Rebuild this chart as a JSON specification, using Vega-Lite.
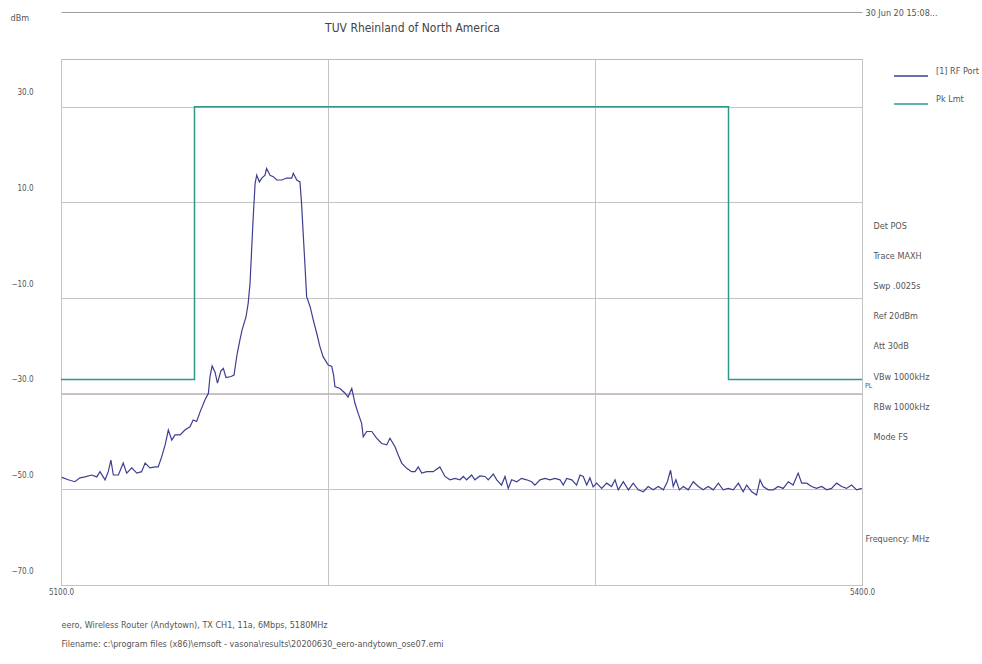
{
"$schema": "https://vega.github.io/schema/vega-lite/v6.json",
"width": 801, "height": 526,
"autosize": {"type": "none"},
"padding": {"left": 61, "top": 59, "right": 120, "bottom": 79},
"background": "white",
"title": {"text": "TUV Rheinland of North America", "anchor": "middle", "frame": "group", "dx": -49, "offset": -39, "baseline": "bottom", "fontSize": 12, "fontWeight": "normal", "color": "#444", "font": "Liberation Sans Narrow, DejaVu Sans Condensed, Liberation Sans, Arial, sans-serif"},
"config": {
  "view": {"stroke": "#b8b8b8", "strokeWidth": 1},
  "font": "Liberation Sans Narrow, DejaVu Sans Condensed, Liberation Sans, Arial, sans-serif",
  "axis": {"labelColor": "#555", "titleColor": "#555", "titleFontWeight": "normal", "gridColor": "#c4c4c4", "gridOpacity": 1, "domain": false, "ticks": false, "labelFontSize": 8, "titleFontSize": 9},
  "legend": {"labelFont": "Liberation Sans Narrow, DejaVu Sans Condensed, Liberation Sans, Arial, sans-serif"}
},
"datasets": {
"trace": [
{"f":5100.3,"v":-47.5},{"f":5102.7,"v":-48.0},{"f":5105.2,"v":-48.4},{"f":5107.1,"v":-47.6},{"f":5109.0,"v":-47.4},{"f":5111.5,"v":-47.0},{"f":5113.4,"v":-47.4},{"f":5114.6,"v":-46.3},{"f":5116.5,"v":-48.0},{"f":5117.7,"v":-46.3},{"f":5118.7,"v":-43.9},{"f":5119.6,"v":-47.0},{"f":5121.5,"v":-47.0},{"f":5123.3,"v":-44.5},{"f":5124.6,"v":-46.6},{"f":5126.5,"v":-45.5},{"f":5128.4,"v":-46.6},{"f":5130.2,"v":-46.3},{"f":5131.5,"v":-44.5},{"f":5133.3,"v":-45.5},{"f":5135.2,"v":-45.3},{"f":5136.4,"v":-45.3},{"f":5137.7,"v":-43.2},{"f":5139.0,"v":-40.7},{"f":5140.2,"v":-37.6},{"f":5141.5,"v":-39.7},{"f":5142.7,"v":-38.6},{"f":5144.6,"v":-38.6},{"f":5146.4,"v":-37.6},{"f":5148.3,"v":-36.9},{"f":5149.5,"v":-35.5},{"f":5150.8,"v":-35.8},{"f":5152.1,"v":-33.8},{"f":5153.9,"v":-31.3},{"f":5155.2,"v":-29.9},{"f":5155.8,"v":-26.4},{"f":5156.6,"v":-24.2},{"f":5157.7,"v":-25.5},{"f":5158.6,"v":-27.8},{"f":5159.9,"v":-25.2},{"f":5160.8,"v":-24.7},{"f":5161.8,"v":-26.6},{"f":5163.7,"v":-26.4},{"f":5164.8,"v":-26.1},{"f":5165.9,"v":-21.9},{"f":5167.0,"v":-18.8},{"f":5167.8,"v":-16.7},{"f":5169.3,"v":-13.9},{"f":5170.1,"v":-11.1},{"f":5170.8,"v":-6.9},{"f":5171.4,"v":0.1},{"f":5172.0,"v":7.0},{"f":5172.7,"v":14.0},{"f":5173.3,"v":15.7},{"f":5174.3,"v":14.3},{"f":5175.2,"v":15.1},{"f":5176.4,"v":15.7},{"f":5177.0,"v":17.1},{"f":5178.3,"v":15.7},{"f":5179.5,"v":15.4},{"f":5180.8,"v":14.7},{"f":5182.7,"v":14.7},{"f":5184.5,"v":15.1},{"f":5186.4,"v":15.1},{"f":5187.0,"v":16.1},{"f":5188.3,"v":14.7},{"f":5189.5,"v":14.3},{"f":5190.1,"v":9.8},{"f":5190.7,"v":3.6},{"f":5191.4,"v":-3.4},{"f":5192.0,"v":-9.7},{"f":5193.3,"v":-11.8},{"f":5194.5,"v":-14.6},{"f":5195.8,"v":-17.4},{"f":5197.0,"v":-20.2},{"f":5198.2,"v":-22.3},{"f":5200.1,"v":-24.0},{"f":5201.4,"v":-24.3},{"f":5202.1,"v":-26.1},{"f":5202.6,"v":-28.5},{"f":5204.5,"v":-28.9},{"f":5206.4,"v":-29.9},{"f":5207.5,"v":-30.7},{"f":5208.9,"v":-28.9},{"f":5210.1,"v":-32.0},{"f":5211.3,"v":-34.1},{"f":5212.6,"v":-36.2},{"f":5213.2,"v":-39.0},{"f":5214.5,"v":-37.9},{"f":5216.4,"v":-37.9},{"f":5218.2,"v":-39.3},{"f":5220.1,"v":-40.4},{"f":5222.0,"v":-40.7},{"f":5223.2,"v":-39.3},{"f":5225.1,"v":-41.1},{"f":5226.3,"v":-42.8},{"f":5227.6,"v":-44.5},{"f":5229.5,"v":-45.6},{"f":5231.3,"v":-46.3},{"f":5232.6,"v":-46.3},{"f":5233.8,"v":-45.3},{"f":5235.1,"v":-46.6},{"f":5237.0,"v":-46.3},{"f":5239.4,"v":-46.3},{"f":5241.9,"v":-45.3},{"f":5243.8,"v":-47.3},{"f":5245.7,"v":-48.0},{"f":5247.6,"v":-47.7},{"f":5249.4,"v":-48.0},{"f":5250.7,"v":-47.3},{"f":5251.9,"v":-48.0},{"f":5253.8,"v":-47.0},{"f":5255.0,"v":-48.0},{"f":5256.9,"v":-47.2},{"f":5258.8,"v":-47.3},{"f":5260.0,"v":-48.0},{"f":5261.9,"v":-46.8},{"f":5263.2,"v":-48.0},{"f":5265.0,"v":-49.1},{"f":5266.3,"v":-47.3},{"f":5267.5,"v":-49.8},{"f":5268.8,"v":-48.0},{"f":5270.7,"v":-48.4},{"f":5272.5,"v":-47.7},{"f":5274.4,"v":-48.0},{"f":5276.3,"v":-48.4},{"f":5277.5,"v":-49.1},{"f":5279.4,"v":-48.0},{"f":5281.3,"v":-47.7},{"f":5283.1,"v":-48.0},{"f":5285.0,"v":-47.7},{"f":5286.9,"v":-48.0},{"f":5288.1,"v":-49.1},{"f":5289.4,"v":-47.7},{"f":5291.3,"v":-48.0},{"f":5293.1,"v":-49.1},{"f":5294.4,"v":-47.0},{"f":5295.6,"v":-47.3},{"f":5296.9,"v":-49.1},{"f":5298.1,"v":-47.6},{"f":5299.3,"v":-49.5},{"f":5300.6,"v":-48.7},{"f":5302.5,"v":-49.8},{"f":5304.4,"v":-48.7},{"f":5306.2,"v":-49.4},{"f":5307.5,"v":-48.0},{"f":5308.7,"v":-50.1},{"f":5310.6,"v":-48.4},{"f":5312.5,"v":-50.1},{"f":5314.3,"v":-48.7},{"f":5316.2,"v":-50.1},{"f":5318.1,"v":-50.5},{"f":5319.9,"v":-49.4},{"f":5321.8,"v":-50.1},{"f":5323.7,"v":-49.4},{"f":5325.6,"v":-50.1},{"f":5327.1,"v":-48.4},{"f":5328.3,"v":-46.0},{"f":5329.3,"v":-49.4},{"f":5330.3,"v":-48.0},{"f":5331.6,"v":-50.1},{"f":5333.1,"v":-49.4},{"f":5334.9,"v":-50.1},{"f":5336.8,"v":-48.4},{"f":5338.7,"v":-49.4},{"f":5340.5,"v":-50.1},{"f":5342.4,"v":-49.4},{"f":5344.3,"v":-50.1},{"f":5346.2,"v":-48.7},{"f":5348.0,"v":-50.1},{"f":5349.9,"v":-49.8},{"f":5351.8,"v":-50.1},{"f":5353.7,"v":-48.7},{"f":5355.5,"v":-50.5},{"f":5356.8,"v":-49.1},{"f":5358.7,"v":-50.5},{"f":5360.5,"v":-51.2},{"f":5361.8,"v":-48.0},{"f":5363.0,"v":-49.4},{"f":5364.9,"v":-50.1},{"f":5366.8,"v":-50.1},{"f":5368.6,"v":-49.4},{"f":5370.5,"v":-49.8},{"f":5372.4,"v":-48.4},{"f":5374.2,"v":-49.1},{"f":5376.1,"v":-46.6},{"f":5377.4,"v":-48.7},{"f":5379.3,"v":-48.7},{"f":5381.1,"v":-49.4},{"f":5383.0,"v":-49.8},{"f":5384.9,"v":-49.4},{"f":5386.8,"v":-50.1},{"f":5388.6,"v":-49.8},{"f":5390.5,"v":-48.7},{"f":5392.4,"v":-49.4},{"f":5394.2,"v":-49.8},{"f":5396.1,"v":-49.1},{"f":5398.0,"v":-50.1},{"f":5399.9,"v":-49.8}
],
"limit": [
{"i":0,"f":5100,"v":-27},{"i":1,"f":5150,"v":-27},{"i":2,"f":5150,"v":30},{"i":3,"f":5350,"v":30},{"i":4,"f":5350,"v":-27},{"i":5,"f":5400,"v":-27}
]
},
"layer": [
  {
    "data": {"values": [{"d": -30}]},
    "mark": {"type": "rule", "color": "#dca6a6", "strokeWidth": 1},
    "encoding": {"y": {"field": "d", "type": "quantitative", "axis": null}}
  },
  {
    "data": {"name": "trace"},
    "mark": {"type": "line", "strokeWidth": 1.2, "interpolate": "linear"},
    "encoding": {
      "x": {"field": "f", "type": "quantitative", "scale": {"domain": [5100, 5400], "nice": false, "zero": false},
        "axis": {"orient": "bottom", "values": [5100, 5200, 5300, 5400], "labelExpr": "datum.value == 5100 || datum.value == 5400 ? format(datum.value, '.1f') : ''", "grid": true, "labelPadding": 3, "labelFlush": false, "labelOverlap": false,
          "title": "Frequency: MHz", "titleX": 804, "titleY": -47, "titleAnchor": null, "titleAlign": "left", "titleBaseline": "middle"}},
      "y": {"field": "v", "type": "quantitative", "scale": {"domain": [-70, 40], "nice": false, "zero": false},
        "axis": {"orient": "left", "values": [-70, -50, -30, -10, 10, 30], "format": ".1f", "grid": true, "labelOffset": -14, "labelPadding": 28,
          "title": "dBm", "titleAngle": 0, "titleX": -51, "titleY": -42, "titleAlign": "left", "titleBaseline": "middle", "titleAnchor": null}},
      "color": {"datum": "[1] RF Port", "type": "nominal",
        "scale": {"domain": ["[1] RF Port", "Pk Lmt"], "range": ["#3e3e92", "#2b9a8c"]},
        "legend": {"orient": "none", "legendX": 832, "legendY": -1, "title": null, "symbolType": "stroke", "symbolSize": 1156, "symbolStrokeWidth": 1.5, "labelFontSize": 9, "labelColor": "#555", "labelOffset": 7, "rowPadding": 7, "padding": 0, "labelBaseline": "bottom"}}
    }
  },
  {
    "data": {"name": "limit"},
    "mark": {"type": "line", "strokeWidth": 1.5},
    "encoding": {
      "x": {"field": "f", "type": "quantitative",
        "axis": {"orient": "top", "offset": 47, "domain": true, "domainColor": "#a0a0a0", "labels": false, "ticks": false, "grid": false,
          "title": "30 Jun 20 15:08...", "titleX": 804, "titleY": 0, "titleAlign": "left", "titleBaseline": "middle", "titleAnchor": null}},
      "y": {"field": "v", "type": "quantitative",
        "axis": {"orient": "right", "grid": false, "labels": false, "ticks": false, "domain": false,
          "title": ["Det POS", "Trace MAXH", "Swp .0025s", "Ref 20dBm", "Att 30dB", "VBw 1000kHz", "RBw 1000kHz", "Mode FS"],
          "titleAngle": 0, "titleX": 11, "titleY": 162, "titleAlign": "left", "titleBaseline": "top", "titleLineHeight": 30.2, "titleAnchor": null}},
      "order": {"field": "i", "type": "quantitative"},
      "color": {"datum": "Pk Lmt", "type": "nominal"}
    }
  },
  {
    "data": {"name": "limit"},
    "transform": [{"filter": "datum.i == 5"}],
    "mark": {"type": "text", "text": "PL", "fontSize": 7, "align": "left", "dx": 3, "dy": 7, "color": "#555"},
    "encoding": {
      "x": {"field": "f", "type": "quantitative",
        "axis": {"orient": "bottom", "grid": false, "labels": false, "ticks": false, "domain": false,
          "title": ["eero, Wireless Router (Andytown), TX CH1, 11a, 6Mbps, 5180MHz", "Filename: c:\\program files (x86)\\emsoft - vasona\\results\\20200630_eero-andytown_ose07.emi"],
          "titleX": 0, "titleY": 35, "titleAlign": "left", "titleBaseline": "top", "titleLineHeight": 19, "titleAnchor": null}},
      "y": {"field": "v", "type": "quantitative", "axis": null}
    }
  }
],
"resolve": {"axis": {"x": "independent", "y": "independent"}}
}
